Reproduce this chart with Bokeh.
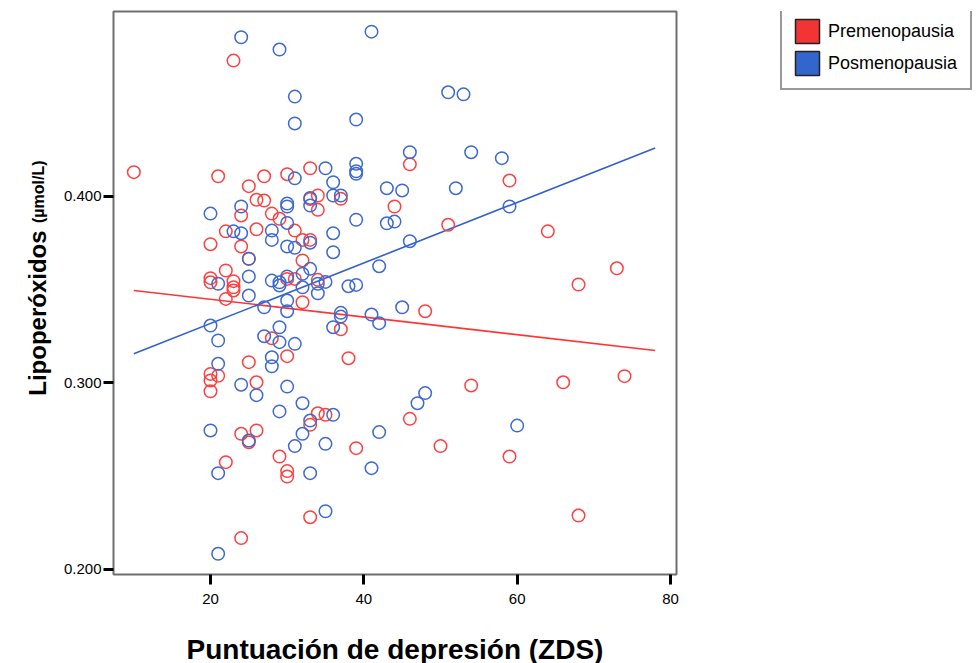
import math
from bokeh.plotting import figure
from bokeh.layouts import row
from bokeh.models import Range1d, Label, Legend, LegendItem, FixedTicker, ColumnDataSource
from bokeh.embed import file_html
from bokeh.resources import INLINE

# ---------------- data ----------------
pre_x = [10, 21, 23, 27, 25, 30, 26, 27, 24, 28, 29, 31, 22, 26, 20, 24, 25, 22, 20, 20,
         23, 23, 23, 30, 31, 22, 32, 28, 30, 25, 20, 21, 20, 26, 20, 24, 26, 25, 29, 22,
         30, 30, 24, 46, 33, 34, 37, 34, 33, 44, 51, 32, 33, 32, 34, 48, 37, 38, 34, 35,
         33, 39, 46, 50, 54, 33, 59, 64, 73, 68, 66, 74, 59, 68]
pre_y = [0.4129, 0.4107, 0.4727, 0.4107, 0.4054, 0.4118, 0.3981, 0.3977, 0.3897, 0.3907,
         0.3879, 0.3816, 0.3812, 0.3823, 0.3743, 0.3731, 0.3665, 0.3602, 0.3561, 0.3539,
         0.3545, 0.3512, 0.3495, 0.3557, 0.3557, 0.3450, 0.3432, 0.3239, 0.3143, 0.3111,
         0.3048, 0.3038, 0.3013, 0.3003, 0.2955, 0.2727, 0.2745, 0.2682, 0.2605, 0.2575,
         0.2527, 0.2498, 0.2168, 0.4171, 0.4150, 0.4004, 0.3986, 0.3927, 0.3985, 0.3945,
         0.3847, 0.3766, 0.3766, 0.3656, 0.3552, 0.3384, 0.3287, 0.3132, 0.2837, 0.2829,
         0.2775, 0.2650, 0.2807, 0.2661, 0.2986, 0.2280, 0.4084, 0.3812, 0.3614, 0.3527,
         0.3003, 0.3036, 0.2605, 0.2289]

pos_x = [24, 29, 31, 31, 31, 30, 30, 20, 24, 30, 23, 24, 28, 28, 30, 31, 25, 25, 21, 28,
         29, 29, 30, 25, 30, 27, 30, 20, 29, 27, 29, 21, 31, 28, 28, 21, 24, 30, 26, 32,
         29, 20, 25, 32, 31, 21, 21, 41, 39, 51, 53, 46, 54, 35, 36, 39, 39, 39, 43, 45,
         52, 33, 36, 37, 33, 39, 43, 44, 36, 46, 36, 33, 42, 33, 32, 34, 35, 32, 34, 38,
         39, 37, 37, 41, 45, 42, 36, 33, 36, 35, 42, 41, 47, 48, 33, 35, 58, 59, 60]
pos_y = [0.4852, 0.4786, 0.4534, 0.4390, 0.4096, 0.3961, 0.3945, 0.3907, 0.3945, 0.3857,
         0.3812, 0.3802, 0.3816, 0.3766, 0.3731, 0.3724, 0.3665, 0.3570, 0.3531, 0.3548,
         0.3539, 0.3522, 0.3570, 0.3468, 0.3441, 0.3405, 0.3384, 0.3307, 0.3298, 0.3250,
         0.3218, 0.3227, 0.3209, 0.3137, 0.3089, 0.3102, 0.2990, 0.2980, 0.2934, 0.2891,
         0.2847, 0.2745, 0.2691, 0.2727, 0.2661, 0.2516, 0.2084, 0.4882, 0.4411, 0.4557,
         0.4546, 0.4236, 0.4236, 0.4150, 0.4075, 0.4174, 0.4134, 0.4120, 0.4043, 0.4031,
         0.4043, 0.3991, 0.4004, 0.4004, 0.3950, 0.3874, 0.3855, 0.3864, 0.3802, 0.3759,
         0.3700, 0.3751, 0.3625, 0.3611, 0.3584, 0.3531, 0.3541, 0.3512, 0.3480, 0.3518,
         0.3525, 0.3375, 0.3355, 0.3366, 0.3405, 0.3320, 0.3298, 0.2798, 0.2829, 0.2673,
         0.2736, 0.2543, 0.2891, 0.2945, 0.2516, 0.2312, 0.4204, 0.3945, 0.2771]

fit_x = [10, 78]
fit_pre = [0.3495, 0.3173]
fit_pos = [0.3156, 0.4259]

x_ticks = [20, 40, 60, 80]
y_ticks = [0.2, 0.3, 0.4]
y_tick_labels = {0.2: "0.200", 0.3: "0.300", 0.4: "0.400"}

series_names = ["Premenopausia", "Posmenopausia"]
x_title = "Puntuación de depresión (ZDS)"
y_title = "Lipoperóxidos"
y_unit = "(µmol/L)"

# ---------------- styling ----------------
RED = "#FF4040"
BLUE = "#3C69D2"
RED_LINE = "#FF3535"
BLUE_LINE = "#2F5FD0"
FONT = "Liberation Sans"

H = 663
WA = 52            # left strip with the y title
WC = 290           # right strip with the legend
LB, TB = 61, 11
FW, FH = 563, 563
RB = 14
WB = LB + FW + RB
X0, X1 = 7.35, 80.78
Y0, Y1 = 0.1973, 0.4990


def blank(width):
    # side strips: their frames are aligned with the main frame by the row,
    # so the y range is given in page pixels between frame top and frame bottom
    f = figure(width=width, height=H, output_backend="svg", toolbar_location=None,
               x_range=Range1d(0, width), y_range=Range1d(TB + FH, TB),
               x_axis_type=None, y_axis_type=None,
               min_border_left=0, min_border_right=0, min_border_top=0, min_border_bottom=0)
    f.outline_line_color = None
    f.background_fill_color = "white"
    f.border_fill_color = "white"
    f.xgrid.visible = False
    f.ygrid.visible = False
    return f


# ---- left strip: y-axis title ----
pa = blank(WA)
pa.add_layout(Label(x=37, y=398, text=y_title, angle=math.pi / 2,
                    text_align="left", text_baseline="middle",
                    text_font=FONT, text_font_style="bold", text_font_size="24px",
                    text_color="black"))
pa.add_layout(Label(x=38, y=224, text=y_unit, angle=math.pi / 2,
                    text_align="left", text_baseline="middle",
                    text_font=FONT, text_font_style="bold", text_font_size="16px",
                    text_color="black"))

# ---- main plot ----
p = figure(width=WB, height=H, output_backend="svg", toolbar_location=None,
           x_range=Range1d(X0, X1), y_range=Range1d(Y0, Y1),
           frame_width=FW, frame_height=FH,
           min_border_left=LB, min_border_top=TB,
           min_border_right=RB, min_border_bottom=H - TB - FH)
p.background_fill_color = "white"
p.border_fill_color = "white"
p.outline_line_color = "#6e6e6e"
p.outline_line_width = 2
p.xgrid.visible = False
p.ygrid.visible = False

p.line(fit_x, fit_pre, line_color=RED_LINE, line_width=1.6)
p.line(fit_x, fit_pos, line_color=BLUE_LINE, line_width=1.6)

p.scatter(pre_x, pre_y, marker="circle", size=12.5, fill_color=None,
          line_color=RED, line_width=1.5)
p.scatter(pos_x, pos_y, marker="circle", size=12.5, fill_color=None,
          line_color=BLUE, line_width=1.5)

for ax in (p.xaxis[0], p.yaxis[0]):
    ax.axis_line_color = None
    ax.major_tick_line_color = "black"
    ax.major_tick_line_width = 3
    ax.major_tick_in = 0
    ax.major_tick_out = 10
    ax.minor_tick_line_color = None
    ax.major_label_text_font = FONT
    ax.major_label_text_font_size = "15px"
    ax.major_label_text_color = "black"

p.xaxis[0].ticker = FixedTicker(ticks=x_ticks)
p.yaxis[0].ticker = FixedTicker(ticks=y_ticks)
p.yaxis[0].major_label_overrides = y_tick_labels
p.xaxis[0].major_label_standoff = 9
p.yaxis[0].major_label_standoff = 2

p.xaxis[0].axis_label = x_title
p.xaxis[0].axis_label_text_font = FONT
p.xaxis[0].axis_label_text_font_style = "bold"
p.xaxis[0].axis_label_text_font_size = "28px"
p.xaxis[0].axis_label_text_color = "black"
p.xaxis[0].axis_label_standoff = 27

# ---- right strip: legend ----
pc = blank(WC)
nan = float("nan")
src_swatch = ColumnDataSource(data=dict(l=[nan], r=[nan], t=[nan], b=[nan]))
sw_red = pc.quad(left="l", right="r", top="t", bottom="b", source=src_swatch,
                 fill_color="#F23434", line_color="#222222", line_width=1.5)
sw_blue = pc.quad(left="l", right="r", top="t", bottom="b", source=src_swatch,
                  fill_color="#3366CC", line_color="#222222", line_width=1.5)
legend = Legend(items=[LegendItem(label=series_names[0], renderers=[sw_red]),
                       LegendItem(label=series_names[1], renderers=[sw_blue])],
                location=(90, TB + FH - 94), orientation="vertical",
                padding=10, spacing=2, glyph_width=30, glyph_height=30,
                label_standoff=6, label_width=132, margin=0,
                label_text_font=FONT, label_text_font_size="18px",
                label_text_color="black",
                border_line_color="#333333", border_line_width=2,
                background_fill_color="white", background_fill_alpha=1.0)
pc.add_layout(legend)

layout = row(pa, p, pc, spacing=0)
open("out.html", "w").write(file_html(layout, INLINE))
